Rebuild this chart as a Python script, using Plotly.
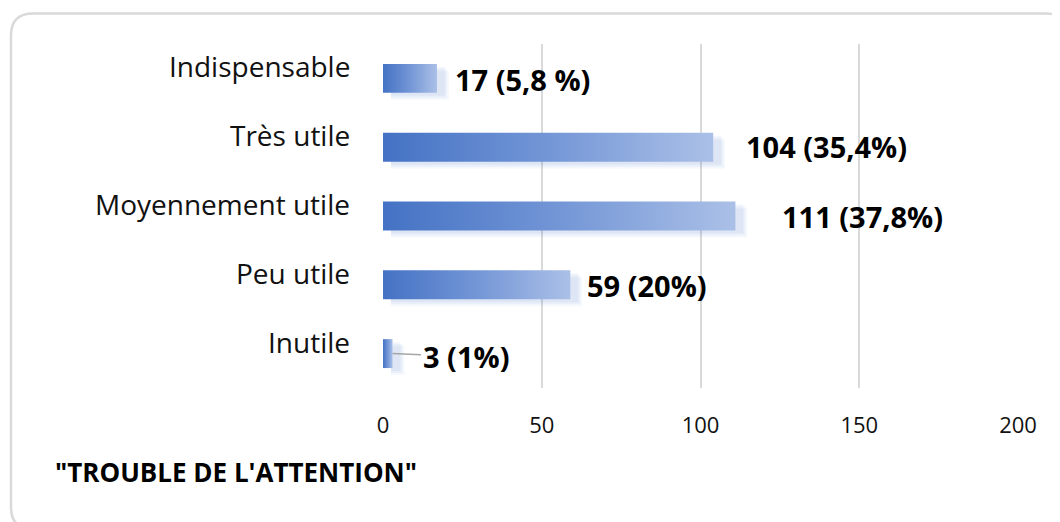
import plotly.graph_objects as go

# ---------------- data ----------------
categories = ["Inutile", "Peu utile", "Moyennement utile", "Très utile", "Indispensable"]
counts = [3, 59, 111, 104, 17]
value_labels = ["3 (1%)", "59 (20%)", "111 (37,8%)", "104 (35,4%)", "17 (5,8 %)"]
x_ticks = [0, 50, 100, 150, 200]
chart_title = '"TROUBLE DE L\'ATTENTION"'

# ---------------- styling ----------------
label_gap_px = [27, 15, 45, 31, 16]          # gap between bar end and value label
label_dy_px = [-3, -1, 0, 1, -1]              # vertical nudge of value labels
leader_line = [True, False, False, False, False]

OFF = 8                      # page body margin
W, H = 1060, 522
PAGE_L, PAGE_R, PAGE_T, PAGE_B = 383, 1018, 43.5, 388.5
L = PAGE_L - OFF
T = PAGE_T - OFF
PW = PAGE_R - PAGE_L
PH = PAGE_B - PAGE_T
R = W - L - PW
B = H - T - PH
BAR_HALF = 0.21
FONT = "Open Sans"


def px_x(px):
    return (px - PAGE_L) / PW


def px_y(py):
    return (PAGE_B - py) / PH


fig = go.Figure()

# shadows + gradient bars
for i, v in enumerate(counts):
    dx = 8 / PW * 200
    for k, alpha in [(0, 0.07), (1, 0.06), (2, 0.05)]:
        dy = (3 + 2 * k) / PH * 5
        grow = k * 0.6
        fig.add_trace(go.Scatter(
            x=[dx, v + dx + grow, v + dx + grow, dx, dx],
            y=[i - BAR_HALF - dy, i - BAR_HALF - dy, i + BAR_HALF - dy, i + BAR_HALF - dy, i - BAR_HALF - dy],
            fill="toself", mode="lines", line=dict(width=0),
            fillcolor=f"rgba(68,114,196,{alpha})",
            hoverinfo="skip", showlegend=False,
        ))
    fig.add_trace(go.Scatter(
        x=[0, v, v, 0, 0],
        y=[i - BAR_HALF, i - BAR_HALF, i + BAR_HALF, i + BAR_HALF, i - BAR_HALF],
        fill="toself", mode="lines", line=dict(width=0),
        fillgradient=dict(type="horizontal",
                          colorscale=[[0, "#4472C4"], [0.5, "#7396D6"], [1, "#ABC0E7"]]),
        hoverinfo="skip", showlegend=False, name=categories[i],
    ))

annotations = []
# category labels (shifted above the bar centre as in the reference)
for i, cat in enumerate(categories):
    annotations.append(dict(
        x=0, xref="paper", y=i, yref="y", xanchor="right", yanchor="middle",
        xshift=-31, yshift=12, text=cat, showarrow=False,
        font=dict(family=FONT, size=28, color="#111111"),
    ))

# value labels
for i, (v, lab) in enumerate(zip(counts, value_labels)):
    if leader_line[i]:
        annotations.append(dict(
            x=v, y=i, xref="x", yref="y", text=f"<b>{lab}</b>",
            showarrow=True, arrowhead=0, arrowwidth=1.5, arrowcolor="#a6a6a6",
            axref="pixel", ayref="pixel", ax=label_gap_px[i] + 46, ay=-label_dy_px[i],
            font=dict(family=FONT, size=29, color="#000000"),
        ))
    else:
        annotations.append(dict(
            x=v, y=i, xref="x", yref="y", xanchor="left", yanchor="middle",
            xshift=label_gap_px[i], yshift=label_dy_px[i], text=f"<b>{lab}</b>",
            showarrow=False,
            font=dict(family=FONT, size=29, color="#000000"),
        ))

# title at bottom left
annotations.append(dict(
    x=px_x(53), y=px_y(473), xref="paper", yref="paper",
    xanchor="left", yanchor="middle", text=f"<b>{chart_title}</b>", showarrow=False,
    font=dict(family=FONT, size=26, color="#000000"),
))

# rounded frame
x0, y0, x1, y1, r = 11, 13, 1068, 530, 22


def P(px, py):
    return f"{px_x(px):.5f},{px_y(py):.5f}"


frame_path = (
    f"M {P(x0 + r, y0)} L {P(x1 - r, y0)} Q {P(x1, y0)} {P(x1, y0 + r)} "
    f"L {P(x1, y1 - r)} Q {P(x1, y1)} {P(x1 - r, y1)} "
    f"L {P(x0 + r, y1)} Q {P(x0, y1)} {P(x0, y1 - r)} "
    f"L {P(x0, y0 + r)} Q {P(x0, y0)} {P(x0 + r, y0)} Z"
)

fig.update_layout(
    width=W, height=H,
    margin=dict(l=L, r=R, t=T, b=B),
    paper_bgcolor="white", plot_bgcolor="white",
    showlegend=False,
    annotations=annotations,
    shapes=[dict(type="path", xref="paper", yref="paper", path=frame_path,
                 line=dict(color="#d9d9d9", width=2.5), layer="below")],
    xaxis=dict(
        range=[0, 200], tickvals=x_ticks, ticktext=[str(t) for t in x_ticks],
        showgrid=True, gridcolor="#d9d9d9", gridwidth=1.5,
        zeroline=False, showline=False, ticks="",
        ticklabelstandoff=22,
        tickfont=dict(family=FONT, size=22, color="#111111"),
        fixedrange=True,
    ),
    yaxis=dict(
        range=[-0.5, 4.5], showticklabels=False, showgrid=False,
        zeroline=False, showline=False, ticks="", fixedrange=True,
    ),
)

fig.write_html("out.html")
